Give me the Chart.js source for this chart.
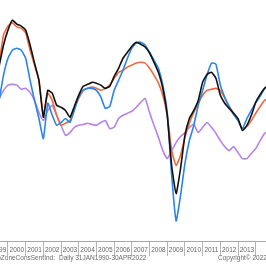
<!DOCTYPE html>
<html>
<head>
<meta charset="utf-8">
<script src="https://cdn.jsdelivr.net/npm/chart.js@4.4.1/dist/chart.umd.min.js"></script>
<style>
  html, body { margin: 0; padding: 0; background: #fff; }
  #wrap { width: 266px; height: 266px; }
</style>
</head>
<body>
<div id="wrap"><canvas id="chart" width="266" height="266"></canvas></div>
<script>
// quarterly readings, decimal years
const dates = [1999.5, 1999.75, 2000, 2000.25, 2000.5, 2000.75, 2001, 2001.25, 2001.5, 2001.75,
  2002, 2002.25, 2002.5, 2002.75, 2003, 2003.25, 2003.5, 2003.75, 2004, 2004.25,
  2004.5, 2004.75, 2005, 2005.25, 2005.5, 2005.75, 2006, 2006.25, 2006.5, 2006.75,
  2007, 2007.25, 2007.5, 2007.75, 2008, 2008.25, 2008.5, 2008.75, 2009, 2009.25,
  2009.5, 2009.75, 2010, 2010.25, 2010.5, 2010.75, 2011, 2011.25, 2011.5, 2011.75,
  2012, 2012.25, 2012.5, 2012.75, 2013, 2013.25, 2013.5, 2013.75, 2014, 2014.25,
  2014.5, 2014.75];

const blackSeries = [103.5, 108.8, 112.5, 115, 114, 113.5, 112.5, 108.8, 104.3, 100,
  90.8, 97.5, 96.8, 93.8, 93.3, 92.5, 90.8, 93.5, 96.3, 98.5,
  99, 99.5, 99.3, 98.8, 98, 98.5, 101, 103, 105.5, 107,
  108.5, 109.5, 109, 108.3, 106.8, 104.5, 102, 98, 91.3, 78.8,
  71.8, 78, 86.3, 90.5, 92.5, 95, 99.5, 101.5, 102, 100.5,
  96.3, 94.3, 93, 91.8, 90.5, 87.5, 88.8, 91.3, 94.5, 96.5,
  98, 98.8];

const blueSeries = [95, 101.3, 105.5, 107.5, 108, 107.5, 105.5, 100, 95, 90.5,
  85.5, 94.3, 91.3, 88.8, 89.5, 90.5, 89.5, 92.5, 96, 97.5,
  98, 98, 97.5, 95.8, 93, 93.5, 97.5, 100, 102.5, 105.5,
  108, 109.3, 109.5, 108.8, 107, 105, 103, 98.8, 92, 76.3,
  65, 71.3, 79.3, 85, 88.8, 93.8, 97.5, 101.3, 104.3, 104,
  98.8, 95.8, 93.5, 91.5, 90, 88, 90.5, 92.5, 94.5, 96,
  98, 99];

const orangeSeries = [104.3, 111.3, 113.5, 114.3, 113.3, 113, 111.8, 107.5, 103.8, 100,
  91.3, 96.8, 95, 91.3, 88.8, 89.3, 90, 93, 95.5, 97.5,
  98, 98.3, 98, 97.5, 98, 98.8, 100.5, 102, 102.5, 103.3,
  103.8, 104.3, 104.5, 104.3, 103, 101.3, 99.3, 96.3, 91.3, 82.5,
  78.8, 81.3, 85.8, 89.3, 92, 94.3, 96.3, 97.5, 97.8, 98,
  97.5, 95.5, 93.5, 91.8, 90, 88, 88.5, 90, 91.8, 93.5,
  95, 95.5];

const purpleSeries = [95.5, 97.5, 98.8, 99, 98.8, 97.8, 98, 97, 95, 92,
  90, 92.5, 93.8, 91.3, 88.8, 86.3, 87, 88.3, 88.8, 89,
  89.3, 89, 88.8, 89.5, 90, 88, 88.3, 90.5, 91.3, 91.8,
  92.3, 93.3, 94.5, 95.5, 92, 88.8, 85.8, 82.5, 80.5, 82.5,
  84.5, 86, 87, 88.3, 89, 87, 88.3, 89.5, 88.3, 86.8,
  85, 83.5, 82.5, 83.5, 82, 80.5, 80.5, 81.8, 83, 85,
  86.8, 87.5];

const yearTicks = [1999, 2000, 2001, 2002, 2003, 2004, 2005, 2006, 2007, 2008,
  2009, 2010, 2011, 2012, 2013, 2014];
const yearLabels = ['1999', '2000', '2001', '2002', '2003', '2004', '2005', '2006', '2007', '2008',
  '2009', '2010', '2011', '2012', '2013'];

const sourceText = 'EuroZoneConsSentInd';
const periodText = 'Daily 31JAN1990-30APR2022';
const copyText = 'Copyright\u00A9 2022 Bloomberg Finance L.P.';

const toPoints = vals => dates.map((d, i) => ({ x: d, y: vals[i] }));

// year separators on the integers, labels in the middle of each year
const axisTicks = [];
yearTicks.forEach(y => {
    axisTicks.push({ value: y });
    if (yearLabels.indexOf(String(y)) >= 0) axisTicks.push({ value: y + 0.5 });
});

const footer = {
    id: 'footer',
    afterDraw(chart) {
        const c = chart.ctx;
        c.save();
        c.font = '6.5px "Liberation Sans", Arial, sans-serif';
        c.fillStyle = '#6a6a6a';
        c.textBaseline = 'middle';
        c.textAlign = 'right';
        c.fillText(sourceText + ':', 55, 258);
        c.textAlign = 'left';
        c.fillText(periodText, 59, 258);
        c.fillText(copyText, 218, 258);
        c.restore();
    }
};

const ctx = document.getElementById('chart').getContext('2d');
const chart = new Chart(ctx, {
    type: 'line',
    data: {
        datasets: [
            { label: 'Black', data: toPoints(blackSeries), borderColor: '#111111', borderWidth: 1.6 },
            { label: 'Blue', data: toPoints(blueSeries), borderColor: '#2b84e6', borderWidth: 1.6 },
            { label: 'Orange', data: toPoints(orangeSeries), borderColor: '#ee6a40', borderWidth: 1.6 },
            { label: 'Purple', data: toPoints(purpleSeries), borderColor: '#b783e8', borderWidth: 1.6 }
        ]
    },
    options: {
        responsive: false,
        animation: false,
        parsing: { xAxisKey: 'x', yAxisKey: 'y' },
        elements: {
            point: { radius: 0 },
            line: { tension: 0.15, fill: false }
        },
        layout: { padding: 0 },
        scales: {
            x: {
                type: 'linear',
                min: 1999.55,
                max: 2014.58,
                afterBuildTicks: s => { s.ticks = axisTicks.map(t => ({ value: t.value })); },
                afterFit: s => { s.height = 25; },
                ticks: {
                    autoSkip: false,
                    maxRotation: 0,
                    padding: -10,
                    color: '#666',
                    font: { family: '"Liberation Sans", Arial, sans-serif', size: 6.5 },
                    callback: v => Number.isInteger(v) ? '' : String(Math.floor(v))
                },
                grid: {
                    drawOnChartArea: false,
                    drawTicks: true,
                    tickLength: 15,
                    color: ctx => Number.isInteger(ctx.tick && ctx.tick.value) ? '#b5b5b5' : 'rgba(0,0,0,0)'
                },
                border: { display: true, color: '#a8a8a8', width: 1 }
            },
            y: {
                display: false,
                min: 60,
                max: 120
            }
        },
        plugins: {
            legend: { display: false },
            tooltip: { enabled: false }
        }
    },
    plugins: [footer]
});
</script>
</body>
</html>
